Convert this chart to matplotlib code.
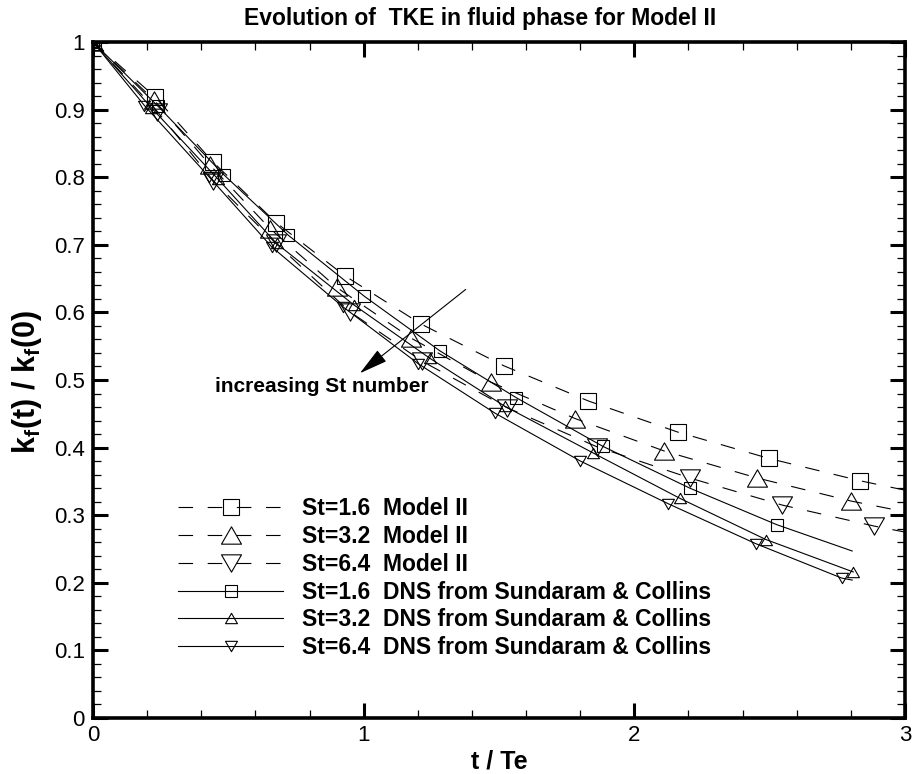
import matplotlib
matplotlib.use('Agg')
import matplotlib.pyplot as plt
from matplotlib.path import Path
from matplotlib.ticker import MultipleLocator, FuncFormatter

plt.rcParams['font.family'] = ['Liberation Sans', 'DejaVu Sans']
plt.rcParams['lines.scale_dashes'] = False
plt.rcParams['mathtext.fontset'] = 'custom'
plt.rcParams['mathtext.rm'] = 'Liberation Sans'
plt.rcParams['mathtext.bf'] = 'Liberation Sans:bold'
plt.rcParams['mathtext.it'] = 'Liberation Sans:italic'

# ---------------- data ----------------
# Model II curves (dashed, large markers); last point has no marker
m16_x = [0.0, 0.229, 0.442, 0.676, 0.931, 1.211, 1.518, 1.830, 2.160, 2.497, 2.833, 3.0]
m16_y = [1.0, 0.919, 0.823, 0.733, 0.654, 0.583, 0.521, 0.469, 0.423, 0.384, 0.351, 0.337]

m32_x = [0.0, 0.226, 0.432, 0.654, 0.900, 1.175, 1.469, 1.781, 2.110, 2.454, 2.800, 3.0]
m32_y = [1.0, 0.914, 0.818, 0.724, 0.637, 0.562, 0.497, 0.443, 0.395, 0.355, 0.321, 0.305]

m64_x = [0.0, 0.238, 0.444, 0.676, 0.949, 1.215, 1.530, 1.863, 2.205, 2.546, 2.885, 3.0]
m64_y = [1.0, 0.897, 0.795, 0.702, 0.601, 0.528, 0.459, 0.401, 0.355, 0.315, 0.284, 0.275]

# DNS from Sundaram & Collins (solid, small markers)
d16_x = [0.0, 0.240, 0.485, 0.722, 1.002, 1.282, 1.563, 1.883, 2.205, 2.526, 2.805]
d16_y = [1.0, 0.905, 0.803, 0.714, 0.624, 0.543, 0.474, 0.402, 0.340, 0.286, 0.247]

d32_x = [0.0, 0.215, 0.460, 0.678, 0.964, 1.245, 1.522, 1.848, 2.168, 2.486, 2.809]
d32_y = [1.0, 0.903, 0.798, 0.702, 0.611, 0.532, 0.461, 0.392, 0.325, 0.264, 0.216]

d64_x = [0.0, 0.190, 0.430, 0.660, 0.924, 1.202, 1.485, 1.801, 2.125, 2.448, 2.766, 2.805]
d64_y = [1.0, 0.906, 0.800, 0.697, 0.608, 0.524, 0.451, 0.380, 0.317, 0.258, 0.207, 0.204]

labels = ["St=1.6  Model II", "St=3.2  Model II", "St=6.4  Model II",
          "St=1.6  DNS from Sundaram & Collins",
          "St=3.2  DNS from Sundaram & Collins",
          "St=6.4  DNS from Sundaram & Collins"]

title = "Evolution of  TKE in fluid phase for Model II"
xlabel = "t / Te"
ylabel = r"$\mathbf{k_f(t)\ /\ k_f(0)}$"
annot_text = "increasing St number"
arrow_from = (1.377, 0.634)
arrow_to = (0.986, 0.510)

# ---------------- markers ----------------
tri_up = Path([(-1, -0.866), (1, -0.866), (0, 0.866), (-1, -0.866)],
              [Path.MOVETO, Path.LINETO, Path.LINETO, Path.CLOSEPOLY])
tri_dn = Path([(-1, 0.866), (1, 0.866), (0, -0.866), (-1, 0.866)],
              [Path.MOVETO, Path.LINETO, Path.LINETO, Path.CLOSEPOLY])

fig = plt.figure(figsize=(9.13, 7.74), dpi=100)
ax = fig.add_axes([0.1019, 0.0724, 0.8893, 0.8733])

dash = (0, (10.5, 10.5))
lw = 0.8
common = dict(color='black', lw=lw, mfc='none', mec='black', mew=0.8)

ax.plot(m16_x, m16_y, ls=dash, marker='s', ms=12,
        markevery=list(range(len(m16_x) - 1)), label=labels[0], **common)
ax.plot(m32_x, m32_y, ls=dash, marker=tri_up, ms=14.4,
        markevery=list(range(len(m32_x) - 1)), label=labels[1], **common)
ax.plot(m64_x, m64_y, ls=dash, marker=tri_dn, ms=14.4,
        markevery=list(range(len(m64_x) - 1)), label=labels[2], **common)
ax.plot(d16_x, d16_y, ls='-', marker='s', ms=8,
        markevery=list(range(len(d16_x) - 1)), label=labels[3], **common)
ax.plot(d32_x, d32_y, ls='-', marker=tri_up, ms=8.6,
        label=labels[4], **common)
ax.plot(d64_x, d64_y, ls='-', marker=tri_dn, ms=8.6,
        markevery=list(range(len(d64_x) - 1)), label=labels[5], **common)

ax.set_xlim(0, 3)
ax.set_ylim(0, 1)
ax.xaxis.set_major_locator(MultipleLocator(1))
ax.xaxis.set_minor_locator(MultipleLocator(0.2))
ax.yaxis.set_major_locator(MultipleLocator(0.1))
ax.yaxis.set_minor_locator(MultipleLocator(0.02))
ax.xaxis.set_major_formatter(FuncFormatter(lambda v, p: f"{v:g}"))
ax.yaxis.set_major_formatter(FuncFormatter(lambda v, p: f"{v:g}"))

for s in ax.spines.values():
    s.set_linewidth(2.6)
ax.tick_params(which='both', direction='in', top=True, right=True, color='black')
ax.tick_params(which='major', length=11, width=2.2, labelsize=16, pad=6)
ax.tick_params(which='minor', length=6, width=0.9)
ax.tick_params(axis='x', which='major', pad=5)

fig.text(0.526, 0.976, title, ha='center', va='center', fontsize=16.5, fontweight='bold')
ax.set_xlabel(xlabel, fontsize=18, fontweight='bold')
ax.xaxis.set_label_coords(0.5, -0.046)
ax.set_ylabel(ylabel, fontsize=22)
ax.yaxis.set_label_coords(-0.06, 0.497)

ax.annotate('', xy=arrow_to, xytext=arrow_from,
            arrowprops=dict(arrowstyle='-|>,head_length=1.8,head_width=0.45',
                            color='black', lw=0.8, mutation_scale=10,
                            shrinkA=0, shrinkB=0))
ax.text(0.45, 0.490, annot_text, fontsize=15, fontweight='bold', ha='left', va='center')

leg = ax.legend(loc='upper left', bbox_to_anchor=(0.1047, 0.3266), frameon=False,
                borderpad=0, borderaxespad=0, handlelength=4.6, handletextpad=0.8,
                labelspacing=0.21, numpoints=1, prop=dict(size=16.5, weight='bold'))

fig.savefig('out.png', dpi=100)
